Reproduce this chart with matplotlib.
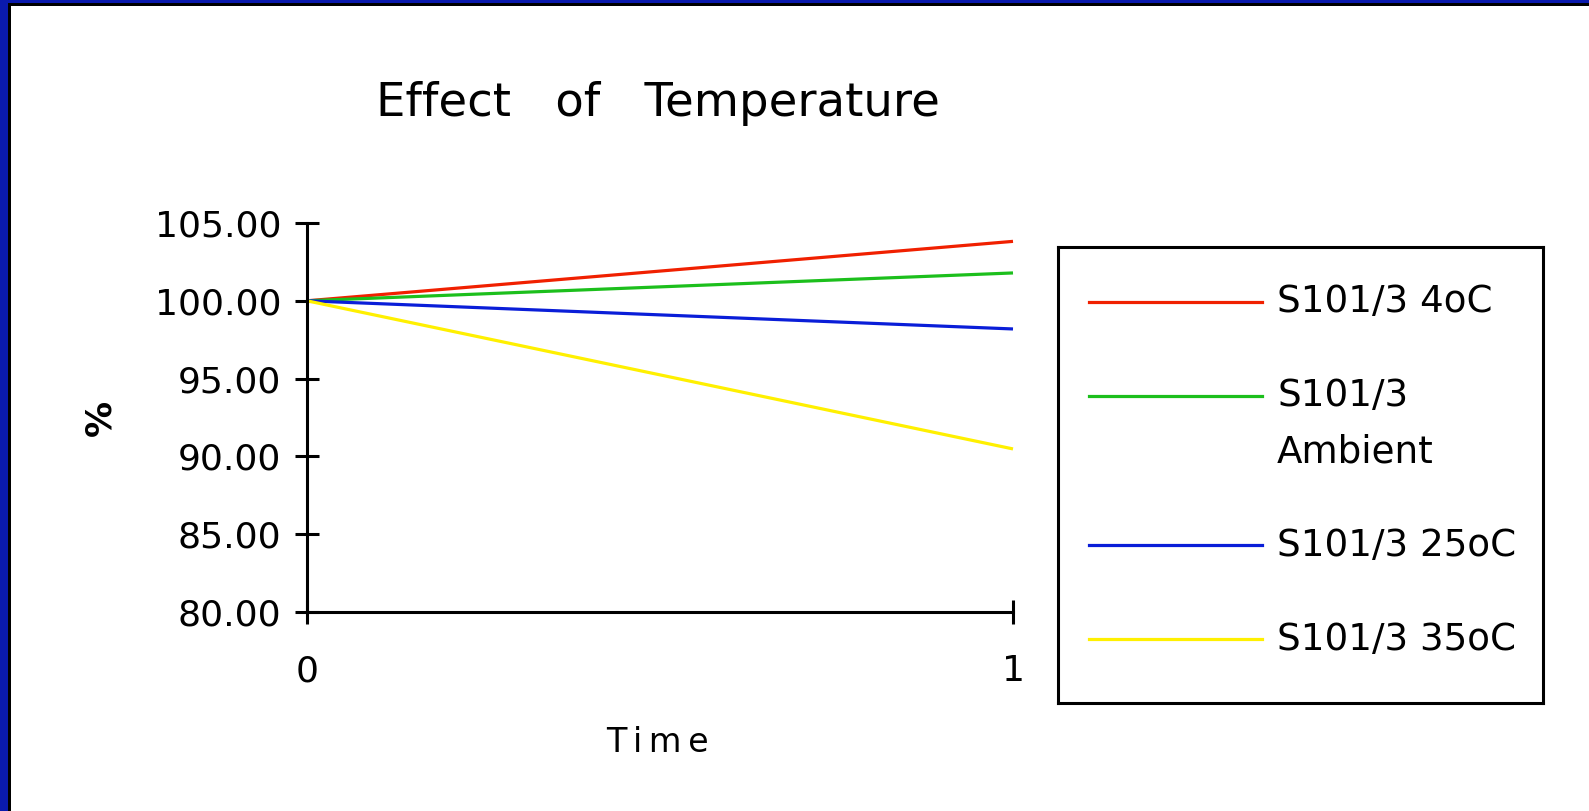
import matplotlib
matplotlib.use("Agg")
import matplotlib.pyplot as plt
from matplotlib.patches import Rectangle
from matplotlib.lines import Line2D

# data
time_points = [0, 1]
series_labels = ["S101/3 4oC", "S101/3\nAmbient", "S101/3 25oC", "S101/3 35oC"]
series_values = [
    [100.0, 103.82],
    [100.0, 101.79],
    [100.0, 98.19],
    [100.0, 90.48],
]
series_colors = ["#f02000", "#1cbf1c", "#0a1ed8", "#fff000"]
y_ticks = [80, 85, 90, 95, 100, 105]

W, H = 1589, 811
fig = plt.figure(figsize=(W / 100, H / 100), dpi=100)
fig.patch.set_facecolor("white")

# blue slide frame with black inner edge (left and top only visible)
fig.patches.append(Rectangle((0, 0), 8 / W, 1, transform=fig.transFigure,
                             facecolor="#0a1aad", edgecolor="none", zorder=0))
fig.patches.append(Rectangle((8 / W, 0), 3 / W, 1 - 3 / H, transform=fig.transFigure,
                             facecolor="black", edgecolor="none", zorder=0))
fig.patches.append(Rectangle((0, 1 - 3 / H), 1, 3 / H, transform=fig.transFigure,
                             facecolor="#0a1aad", edgecolor="none", zorder=0))
fig.patches.append(Rectangle((8 / W, 1 - 6 / H), 1, 3 / H, transform=fig.transFigure,
                             facecolor="black", edgecolor="none", zorder=0))

ax = fig.add_axes([307 / W, 1 - 612 / H, 706 / W, 389 / H])
for vals, color, label in zip(series_values, series_colors, series_labels):
    ax.plot(time_points, vals, color=color, linewidth=2.3, label=label,
            solid_capstyle="butt", clip_on=False)

ax.set_xlim(0, 1)
ax.set_ylim(80, 105)
ax.set_yticks(y_ticks)
ax.set_yticklabels([f"{v:.2f}" for v in y_ticks])
ax.set_xticks(time_points)
ax.set_xticklabels([str(t) for t in time_points])

for side in ["top", "right"]:
    ax.spines[side].set_visible(False)
for side in ["left", "bottom"]:
    ax.spines[side].set_linewidth(2.2)
    ax.spines[side].set_color("black")

ax.tick_params(axis="both", direction="inout", length=17, width=2.2,
               labelsize=26, colors="black")
ax.tick_params(axis="y", pad=10)
ax.tick_params(axis="x", pad=22)

ax.set_ylabel("%", fontsize=26, fontweight="bold")
ax.yaxis.set_label_coords(-0.268, 0.5)
ax.set_xlabel("T\u2009i\u2009m\u2009e", fontsize=24)
ax.xaxis.set_label_coords(0.497, -0.292)

fig.text(658 / W, 1 - 103 / H, "Effect   of   Temperature", fontsize=33.5,
         ha="center", va="center")

# legend box drawn as its own axes so the two-line label sits like the original
lax = fig.add_axes([1058 / W, 1 - 703 / H, 485 / W, 456 / H])
lax.set_xlim(0, 485)
lax.set_ylim(456, 0)
lax.set_xticks([])
lax.set_yticks([])
for s in lax.spines.values():
    s.set_linewidth(2.2)
    s.set_color("black")
entry_rows = [55, 149, 298, 392]
for row, color, label in zip(entry_rows, series_colors, series_labels):
    lax.add_line(Line2D([31, 204], [row, row], color=color, linewidth=2.3))
    for i, part in enumerate(label.split("\n")):
        lax.text(219, row + 56 * i, part, fontsize=26.8, va="center", ha="left")

fig.savefig("out.png", dpi=100)
